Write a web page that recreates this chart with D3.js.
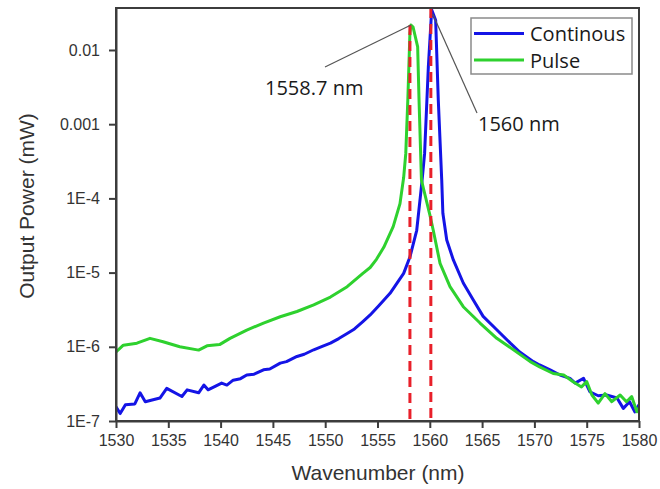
<!DOCTYPE html>
<html>
<head>
    <meta charset="utf-8" />
    <title>Output power spectrum</title>
    <script src="https://cdn.jsdelivr.net/npm/d3@7"></script>
    <style>
        body { margin: 0; background: #fff; }
        .axis path, .axis line { stroke: #3c3c3c; stroke-width: 2px; }
        .axis text { font-family: "Liberation Sans", Arial, sans-serif; font-size: 16px; fill: #333; }
        .title { font-family: "Liberation Sans", Arial, sans-serif; font-size: 21px; fill: #333; }
        .note { font-family: "Open Sans", sans-serif; font-size: 20px; fill: #1a1a1a; }
    </style>
</head>
<body>
    <svg width="660" height="489"></svg>
    <script>
        // Continous
        var contWl = [1530.0, 1530.4, 1530.9, 1531.8, 1532.3, 1532.8, 1534.2, 1534.85, 1536.3, 1536.8,
            1537.9, 1538.4, 1538.8, 1540.1, 1540.6, 1541.2, 1541.9, 1542.5, 1543.2, 1544.1,
            1544.7, 1545.7, 1546.3, 1547.3, 1548.0, 1548.9, 1549.6, 1550.5, 1551.3, 1552.1,
            1552.8, 1553.6, 1554.3, 1555.1, 1556.2, 1557.5, 1558.1, 1558.75, 1559.13, 1559.3,
            1559.5, 1559.86, 1560.18, 1560.56, 1560.81, 1561.14, 1561.25, 1561.62, 1562.25, 1563.2,
            1564.16, 1565.1, 1566.4, 1567.7, 1568.6, 1569.9, 1570.5, 1571.5, 1572.45, 1573.4,
            1573.9, 1574.7, 1575.3, 1576.1, 1576.9, 1577.9, 1578.5, 1579.1, 1579.6, 1580.0];
        var contMw = [1.55e-7, 1.26e-7, 1.66e-7, 1.70e-7, 2.40e-7, 1.82e-7, 2.04e-7, 2.75e-7, 2.14e-7, 2.63e-7,
            2.40e-7, 3.05e-7, 2.63e-7, 3.24e-7, 3.05e-7, 3.55e-7, 3.72e-7, 4.17e-7, 4.27e-7, 4.90e-7,
            5.01e-7, 6.03e-7, 6.31e-7, 7.41e-7, 7.94e-7, 9.12e-7, 1.00e-6, 1.12e-6, 1.29e-6, 1.51e-6,
            1.74e-6, 2.19e-6, 2.69e-6, 3.55e-6, 5.25e-6, 9.77e-6, 1.62e-5, 3.72e-5, 1.17e-4, 2.00e-4,
            3.98e-4, 5.89e-3, 3.47e-2, 2.51e-2, 2.14e-3, 1.78e-4, 6.31e-5, 2.75e-5, 1.48e-5, 7.24e-6,
            4.27e-6, 2.57e-6, 1.70e-6, 1.12e-6, 8.51e-7, 6.31e-7, 5.69e-7, 4.90e-7, 4.17e-7, 3.76e-7,
            3.24e-7, 3.76e-7, 2.48e-7, 2.19e-7, 2.24e-7, 2.04e-7, 1.48e-7, 1.82e-7, 1.33e-7, 1.66e-7];

        // Pulse
        var pulseWl = [1530.0, 1530.7, 1532.0, 1533.25, 1534.5, 1536.1, 1537.9, 1538.7, 1539.9, 1540.9,
            1542.5, 1544.1, 1545.7, 1547.3, 1548.9, 1550.5, 1552.1, 1553.6, 1554.3, 1554.9,
            1555.6, 1556.5, 1557.15, 1557.5, 1557.7, 1557.9, 1558.1, 1558.2, 1558.4, 1558.84,
            1558.97, 1559.2, 1559.4, 1560.0, 1560.33, 1560.98, 1561.93, 1563.2, 1564.8, 1566.4,
            1568.0, 1569.6, 1570.5, 1571.8, 1572.8, 1573.7, 1574.5, 1575.0, 1575.5, 1576.1,
            1576.75, 1577.4, 1578.2, 1578.8, 1579.3, 1579.8, 1580.0];
        var pulseMw = [8.51e-7, 1.05e-6, 1.12e-6, 1.30e-6, 1.17e-6, 1.00e-6, 9.02e-7, 1.03e-6, 1.07e-6, 1.30e-6,
            1.68e-6, 2.09e-6, 2.54e-6, 2.99e-6, 3.67e-6, 4.68e-6, 6.46e-6, 9.77e-6, 1.17e-5, 1.51e-5,
            2.19e-5, 4.17e-5, 8.51e-5, 1.91e-4, 3.98e-4, 2.14e-3, 1.70e-2, 2.17e-2, 2.04e-2, 1.10e-2,
            2.14e-3, 1.78e-4, 1.35e-4, 6.03e-5, 3.72e-5, 1.33e-5, 6.46e-6, 3.47e-6, 2.09e-6, 1.30e-6,
            9.12e-7, 6.31e-7, 5.37e-7, 4.37e-7, 4.17e-7, 3.39e-7, 2.88e-7, 3.39e-7, 2.24e-7, 1.74e-7,
            2.34e-7, 1.82e-7, 2.24e-7, 1.82e-7, 2.14e-7, 1.33e-7, 1.51e-7];

        var xTicks = [1530, 1535, 1540, 1545, 1550, 1555, 1560, 1565, 1570, 1575, 1580];
        var yTicks = [1e-7, 1e-6, 1e-5, 1e-4, 1e-3, 1e-2];
        var yTickLabels = ["1E-7", "1E-6", "1E-5", "1E-4", "0.001", "0.01"];

        // peak markers (red dashed) and their notes
        var markWl = [1558.1, 1560.1];
        var markTop = [2.17e-2, 0.0368];
        var peakNotes = ["1558.7 nm", "1560 nm"];
        var seriesNames = ["Continous", "Pulse"];
        var seriesColors = ["#1414e6", "#2ed12e"];

        var svg = d3.select("svg");
        var x = d3.scaleLinear().domain([1530, 1580]).range([116, 639]);
        var y = d3.scaleLog().domain([1e-7, 0.0368]).range([421, 8]);

        svg.append("defs").append("clipPath").attr("id", "plot")
            .append("rect").attr("x", 116).attr("y", 8).attr("width", 523).attr("height", 413);

        var line = d3.line()
            .x(function (d) { return x(d[0]); })
            .y(function (d) { return y(d[1]); });

        var cont = contWl.map(function (w, i) { return [w, contMw[i]]; });
        var pulse = pulseWl.map(function (w, i) { return [w, pulseMw[i]]; });

        var g = svg.append("g").attr("clip-path", "url(#plot)");
        g.append("path").datum(cont).attr("d", line)
            .attr("fill", "none").attr("stroke", seriesColors[0]).attr("stroke-width", 3).attr("stroke-linejoin", "round");
        g.append("path").datum(pulse).attr("d", line)
            .attr("fill", "none").attr("stroke", seriesColors[1]).attr("stroke-width", 3).attr("stroke-linejoin", "round");

        // red dashed lines at the two peaks
        g.selectAll("line.mark").data(markWl).enter().append("line")
            .attr("class", "mark")
            .attr("x1", function (d) { return x(d); })
            .attr("x2", function (d) { return x(d); })
            .attr("y1", function (d, i) { return y(markTop[i]); })
            .attr("y2", y(1e-7))
            .attr("stroke", "#e8202a").attr("stroke-width", 3).attr("stroke-dasharray", "10,6");

        // axes
        svg.append("g").attr("class", "axis").attr("transform", "translate(0,421)")
            .call(d3.axisBottom(x).tickValues(xTicks).tickSize(7).tickPadding(7).tickSizeOuter(0)
                .tickFormat(d3.format("d")));
        svg.append("g").attr("class", "axis").attr("transform", "translate(116,0)")
            .call(d3.axisLeft(y).tickValues(yTicks).tickSize(7).tickPadding(9).tickSizeOuter(0)
                .tickFormat(function (d, i) { return yTickLabels[i]; }));
        svg.append("rect").attr("x", 116).attr("y", 8).attr("width", 523).attr("height", 413)
            .attr("fill", "none").attr("stroke", "#3c3c3c").attr("stroke-width", 2);

        svg.append("text").attr("class", "title").attr("x", 378).attr("y", 480)
            .attr("text-anchor", "middle").text("Wavenumber (nm)");
        svg.append("text").attr("class", "title").attr("transform", "translate(34,206) rotate(-90)")
            .attr("text-anchor", "middle").text("Output Power (mW)");

        // notes with leader lines
        svg.append("line").attr("x1", 325).attr("y1", 67).attr("x2", x(1558.2)).attr("y2", y(2.17e-2))
            .attr("stroke", "#555").attr("stroke-width", 1.2);
        svg.append("text").attr("class", "note").attr("x", 265).attr("y", 95).text(peakNotes[0]);
        svg.append("line").attr("x1", 477).attr("y1", 113).attr("x2", x(1560.18) + 1).attr("y2", y(3.47e-2) + 4)
            .attr("stroke", "#555").attr("stroke-width", 1.2);
        svg.append("text").attr("class", "note").attr("x", 478).attr("y", 131).text(peakNotes[1]);

        // legend
        var lg = svg.append("g");
        lg.append("rect").attr("x", 471).attr("y", 18).attr("width", 161).attr("height", 56)
            .attr("fill", "#fff").attr("stroke", "#8a8a8a").attr("stroke-width", 1.5);
        seriesNames.forEach(function (name, i) {
            var ly = 33.5 + i * 26.5;
            lg.append("line").attr("x1", 474).attr("x2", 524).attr("y1", ly).attr("y2", ly)
                .attr("stroke", seriesColors[i]).attr("stroke-width", 3);
            lg.append("text").attr("class", "note").attr("x", 530).attr("y", ly + 7.5).text(name);
        });
    </script>
</body>
</html>
